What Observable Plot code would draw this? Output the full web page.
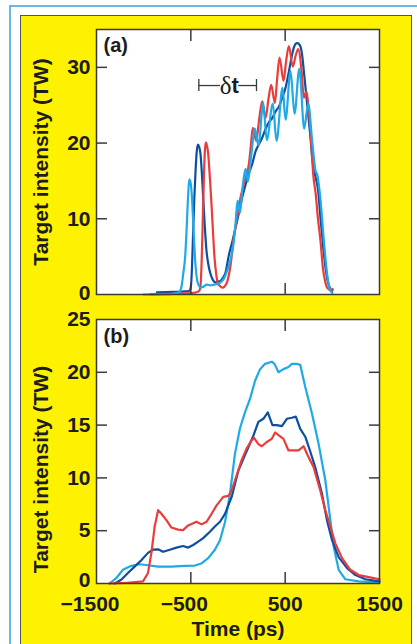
<!DOCTYPE html>
<html><head><meta charset="utf-8">
<script src="https://cdn.jsdelivr.net/npm/d3@7"></script>
<script src="https://cdn.jsdelivr.net/npm/@observablehq/plot@0.6"></script>
<style>
body{margin:0;width:417px;height:644px;overflow:hidden;position:relative;background:#fff;}
#outer{position:absolute;left:9px;top:5px;width:430px;height:660px;border:2px solid #6db7e5;box-sizing:border-box}
#yellow{position:absolute;left:19.5px;top:14.5px;width:392px;height:650px;background:#fff200;border:1px solid #555;box-sizing:border-box}
.panel{position:absolute;left:0}
</style></head><body>
<div id="outer"></div><div id="yellow"></div>
<div id="a" class="panel" style="top:15px"></div>
<div id="b" class="panel" style="top:296px"></div>
<script>
// ---- data ----
const xDomain = [-1500, 1500];
const yDomainA = [0, 35];
const yDomainB = [0, 25];
const xTickLabels = [-1500, -500, 500, 1500];
const xInnerTicks = [-500, 500];
const yTicksA = [0, 10, 20, 30];
const yTicksB = [0, 5, 10, 15, 20, 25];
const yLabel = "Target intensity (TW)";
const xLabel = "Time (ps)";
const panelLabels = ["(a)", "(b)"];

// panel (a)
const aLightTime = [-1000,-720,-625,-600,-580,-560,-545,-530,-517,-503,-488,-470,-450,-432,-415,-395,-370,-330,-290,-256,-220,-185,-150,-114,-80,-50,-25,-5,20,50,80,104,140,178,217,267,305,369,408,472,504,557,599,650,702,744,786,822,840,875,910,945,975,1000];
const aLightTW   = [0,0.05,0.3,1.0,2.8,5,8.5,12.8,15.2,14.8,12.8,8.2,3.8,1.8,1.2,0.9,1.0,1.3,1.2,1.3,1.4,1.6,2.1,3.2,4.6,6.5,9.5,12.4,10.8,14.3,16.6,14.9,18.3,21.9,19.7,25.3,20.4,25.2,20.3,27.3,23.1,29.5,23.9,29.8,21.9,25.2,20.3,16.3,15.8,12.4,7.1,2.7,0.6,0.2];
const aDarkTime  = [-860,-700,-560,-515,-500,-488,-475,-462,-450,-438,-426,-412,-397,-383,-369,-352,-334,-312,-291,-265,-238,-210,-185,-160,-132,-97,-60,-26,10,44,80,115,150,186,220,256,290,330,362,400,433,470,504,540,574,592,610,630,652,668,681,698,716,734,751,770,786,822,850,875,900,925,945,970,1000];
const aDarkTW    = [0.3,0.35,0.4,0.5,1.0,3.5,8.4,13,16.3,18.8,19.8,19.5,18.5,16,12.8,9,5.8,3.8,2.7,1.9,1.6,1.7,1.8,2.2,2.9,5.2,7,8.8,10.8,12.8,14.5,16.0,17.2,18.9,19.8,20.7,21.8,22.8,23.3,24.2,24.8,26,27.3,29.5,31.7,32.6,33.1,33.2,33.0,32.5,31.5,29.5,27.3,25,22.9,20.5,18.1,15.5,13.7,10,6.7,3.8,2.1,1,0.5];
const aRedTime   = [-930,-700,-500,-440,-410,-397,-385,-374,-364,-352,-341,-328,-316,-300,-284,-266,-249,-230,-214,-190,-167,-140,-114,-80,-44,-9,27,62,90,115,135,157,193,225,256,292,325,352,391,415,440,483,510,539,581,610,638,674,698,726,751,779,800,822,848,875,900,928,950,975,1005];
const aRedTW     = [0.05,0.1,0.2,0.3,0.5,1.2,4.5,9.5,14.3,18.8,20.1,19.6,18.6,15.8,12.6,8.5,4.9,2.6,1.5,1.1,0.9,1.1,1.7,3.8,7.5,10.2,12.8,14.6,15.8,17.2,19.5,22,20.3,23.2,25.5,23.3,26,27.7,25.3,28.5,31.3,28.2,30.8,32.8,30.1,31.5,32.4,29.5,26,26.8,24.2,19.4,15.5,13.5,10,7,3.5,1.5,0.8,0.6,0.7];
const deltaTStart = -415, deltaTEnd = 196, deltaTLevel = 27.6, deltaTGap = [-185, 8], deltaTSplit = -69;

// panel (b)
const bLightTime = [-1362,-1291,-1220,-1131,-1043,-954,-847,-706,-564,-457,-387,-316,-245,-191,-138,-85,-32,21,74,128,181,234,287,358,387,429,482,535,571,624,660,713,784,855,925,979,1014,1067,1138,1280,1500];
const bLightTW   = [0,0.5,1.3,1.67,1.82,1.73,1.6,1.6,1.67,1.7,1.9,2.4,3.2,4.1,5.8,8.5,12.3,14.7,16.2,17.5,19.2,20.3,20.8,21.0,20.8,20.0,20.3,20.5,20.8,20.8,20.7,18.6,16.1,13.2,9.8,6.0,3.5,1.3,0.4,0.2,0.1];
const bDarkTime  = [-1308,-1238,-1167,-1096,-1025,-954,-901,-847,-794,-723,-652,-582,-528,-475,-422,-369,-298,-245,-191,-138,-67,4,57,110,163,216,269,316,365,411,465,518,571,613,660,713,766,819,890,943,997,1067,1156,1245,1351,1500];
const bDarkTW    = [0,0.35,1.0,1.6,2.2,2.9,3.2,3.24,3.0,3.2,3.4,3.55,3.4,3.65,3.96,4.3,4.9,5.4,5.85,6.6,8.2,10.7,11.8,12.9,14.0,15.3,15.6,16.2,15.0,15.0,14.9,15.6,15.7,15.8,14.65,13.9,12.5,11.0,8.5,6.0,4.1,2.5,1.45,0.8,0.4,0.2];
const bRedTime   = [-1362,-1200,-1007,-954,-918,-883,-847,-812,-759,-706,-635,-582,-528,-440,-387,-333,-280,-227,-156,-103,-67,-14,39,92,145,170,216,252,305,358,394,436,482,535,589,642,695,741,802,872,925,979,1032,1103,1191,1280,1386,1500];
const bRedTW     = [0,0.05,0.2,1.0,2.9,5.4,6.95,6.6,6.0,5.3,5.1,5.06,5.5,5.85,5.6,5.85,6.6,7.4,8.2,8.3,8.8,10.25,11.7,12.8,13.55,13.8,13.2,13.0,13.4,13.7,14.3,14.0,13.7,12.6,12.6,12.6,13.0,12.1,11.0,8.8,6.95,5.4,3.8,2.4,1.3,0.8,0.6,0.4];

// ---- styles ----
const C = {light: "#1fa9e6", dark: "#0d4ea0", red: "#ec3b3b", ink: "#1c1c1c", frame: "#3a3a3a"};
const font = '"Liberation Sans", Arial, Helvetica, sans-serif';
const rows = (xs, ys) => xs.map((t, i) => ({time: t, tw: ys[i]}));
const fmt = d => (d < 0 ? "\u2212" : "") + Math.abs(d);

function common(yTicks, innerY, curve, series, zeroLift) {
  return [
    Plot.frame({fill: "white"}),
    ...series.map(([xs, ys, col]) => Plot.line(rows(xs, ys), {x: "time", y: "tw", stroke: col, strokeWidth: 2.2, curve, strokeLinejoin: "round"})),
    Plot.axisY(yTicks.slice(1), {anchor: "left", tickSize: 0, tickPadding: 6, tickFormat: fmt, label: null, fontWeight: "bold", fill: C.ink}),
    Plot.axisY(yTicks.slice(0, 1), {anchor: "left", tickSize: 0, tickPadding: 6, dy: -zeroLift, tickFormat: fmt, label: null, fontWeight: "bold", fill: C.ink}),
    Plot.axisY(innerY, {anchor: "left", tickSize: 11, dx: 11, fill: "none", label: null, stroke: C.frame, strokeWidth: 1.5}),
    Plot.axisY(innerY, {anchor: "right", tickSize: 11, dx: -11, fill: "none", label: null, stroke: C.frame, strokeWidth: 1.5}),
    Plot.axisX(xInnerTicks, {anchor: "bottom", tickSize: 11, dy: -11, fill: "none", label: null, stroke: C.frame, strokeWidth: 1.5}),
    Plot.axisX(xInnerTicks, {anchor: "top", tickSize: 11, dy: 11, fill: "none", label: null, stroke: C.frame, strokeWidth: 1.5}),
    Plot.frame({stroke: C.frame, strokeWidth: 1.5})
  ];
}

const style = {fontFamily: font, fontSize: "21px", fontWeight: "bold", background: "transparent", overflow: "visible", color: C.ink};

const plotA = Plot.plot({
  width: 417, height: 281,
  marginLeft: 96, marginRight: 38, marginTop: 14, marginBottom: 2,
  style,
  x: {domain: xDomain, axis: null},
  y: {domain: yDomainA, axis: null},
  marks: [
    ...common(yTicksA, yTicksA.slice(1), "monotone-x", [
      [aDarkTime, aDarkTW, C.dark], [aRedTime, aRedTW, C.red], [aLightTime, aLightTW, C.light]
    ], 1),
    Plot.text([panelLabels[0]], {text: d => d, frameAnchor: "top-left", dx: 7, dy: 8, lineAnchor: "top", textAnchor: "start", fontWeight: "bold", fontSize: 20, fill: C.ink}),
    Plot.text([yLabel], {text: d => d, frameAnchor: "left", rotate: -90, dx: -55.4, dy: 0, lineAnchor: "middle", textAnchor: "middle", fontWeight: "bold", fill: C.ink}),
    Plot.ruleY([deltaTLevel], {x1: deltaTStart, x2: deltaTGap[0], y: d => d, stroke: C.frame, strokeWidth: 1.3}),
    Plot.ruleY([deltaTLevel], {x1: deltaTGap[1], x2: deltaTEnd, y: d => d, stroke: C.frame, strokeWidth: 1.3}),
    Plot.ruleX([deltaTStart, deltaTEnd], {x: d => d, y1: deltaTLevel - 0.8, y2: deltaTLevel + 0.8, stroke: C.frame, strokeWidth: 1.3}),
    Plot.text(["δ"], {text: d => d, x: deltaTSplit, y: deltaTLevel, textAnchor: "end", lineAnchor: "middle", fontFamily: '"Liberation Serif", "DejaVu Serif", serif', fontWeight: "normal", fontSize: 25, fill: C.ink}),
    Plot.text(["t"], {text: d => d, x: deltaTSplit, y: deltaTLevel, textAnchor: "start", lineAnchor: "middle", fontWeight: "bold", fontSize: 22, fill: C.ink})
  ]
});
document.getElementById("a").append(plotA);

const plotB = Plot.plot({
  width: 417, height: 348,
  marginLeft: 96, marginRight: 38, marginTop: 23, marginBottom: 61,
  style,
  x: {domain: xDomain, axis: null},
  y: {domain: yDomainB, axis: null},
  marks: [
    ...common(yTicksB, yTicksB.slice(1, -1), "linear", [
      [bLightTime, bLightTW, C.light], [bDarkTime, bDarkTW, C.dark], [bRedTime, bRedTW, C.red]
    ], 3),
    Plot.axisX(xTickLabels.filter(v => v < 0), {anchor: "bottom", tickSize: 0, tickPadding: 13, dx: -6.5, tickFormat: fmt, label: null, fontWeight: "bold", fill: C.ink}),
    Plot.axisX(xTickLabels.filter(v => v > 0), {anchor: "bottom", tickSize: 0, tickPadding: 13, tickFormat: fmt, label: null, fontWeight: "bold", fill: C.ink}),
    Plot.text([panelLabels[1]], {text: d => d, frameAnchor: "top-left", dx: 7, dy: 9, lineAnchor: "top", textAnchor: "start", fontWeight: "bold", fontSize: 20, fill: C.ink}),
    Plot.text([yLabel], {text: d => d, frameAnchor: "left", rotate: -90, dx: -55.4, dy: 18, lineAnchor: "middle", textAnchor: "middle", fontWeight: "bold", fill: C.ink}),
    Plot.text([xLabel], {text: d => d, frameAnchor: "bottom", dy: 45.5, lineAnchor: "middle", textAnchor: "middle", fontWeight: "bold", fill: C.ink})
  ]
});
document.getElementById("b").append(plotB);
</script>
</body></html>
